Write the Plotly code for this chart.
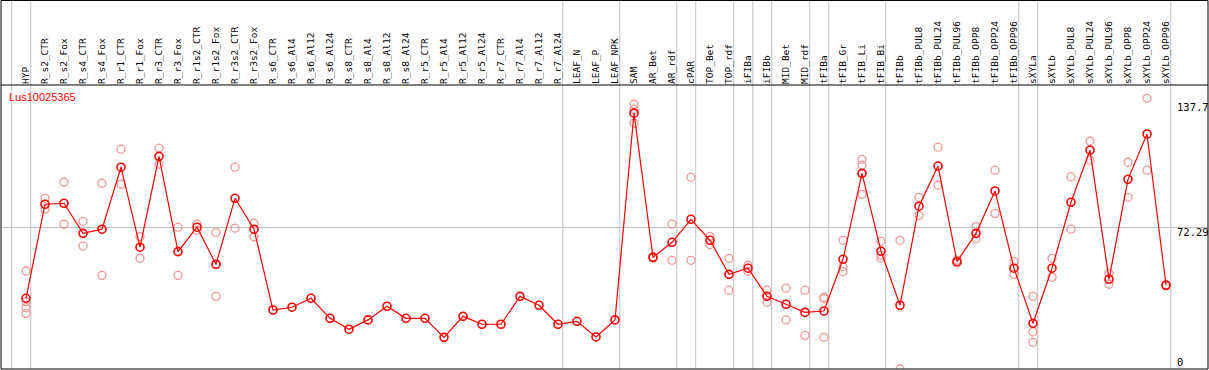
import plotly.graph_objects as go

categories = ["HYP", "R_s2_CTR", "R_s2_Fox", "R_s4_CTR", "R_s4_Fox", "R_r1_CTR", "R_r1_Fox",
              "R_r3_CTR", "R_r3_Fox", "R_r1s2_CTR", "R_r1s2_Fox", "R_r3s2_CTR", "R_r3s2_Fox",
              "R_s6_CTR", "R_s6_Al4", "R_s6_Al12", "R_s6_Al24", "R_s8_CTR", "R_s8_Al4", "R_s8_Al12",
              "R_s8_Al24", "R_r5_CTR", "R_r5_Al4", "R_r5_Al12", "R_r5_Al24", "R_r7_CTR", "R_r7_Al4",
              "R_r7_Al12", "R_r7_Al24", "LEAF_N", "LEAF_P", "LEAF_NPK", "SAM", "AR_Bet", "AR_rdf",
              "cPAR", "TOP_Bet", "TOP_rdf", "iFIBa", "iFIBb", "MID_Bet", "MID_rdf", "tFIBa",
              "tFIB_Gr", "tFIB_Li", "tFIB_Bi", "tFIBb", "tFIBb_PUL8", "tFIBb_PUL24", "tFIBb_PUL96",
              "tFIBb_OPP8", "tFIBb_OPP24", "tFIBb_OPP96", "sXYLa", "sXYLb", "sXYLb_PUL8",
              "sXYLb_PUL24", "sXYLb_PUL96", "sXYLb_OPP8", "sXYLb_OPP24", "sXYLb_OPP96"]

means = [36.7, 84.2, 84.7, 69.5, 71.6, 102.9, 62.5, 108.4, 60.3, 72.6, 53.9, 87.2, 71.6,
         30.8, 32.2, 36.7, 26.6, 21.1, 25.8, 32.7, 26.6, 26.6, 17.0, 27.6, 23.6, 23.6, 37.7,
         33.2, 23.6, 25.1, 17.2, 25.8, 130.2, 57.4, 65.0, 76.6, 66.0, 48.8, 51.9, 37.7, 33.7,
         29.6, 30.3, 56.4, 99.8, 60.5, 33.2, 83.2, 103.5, 55.2, 69.5, 90.9, 51.9, 24.1, 51.9,
         85.2, 111.5, 46.3, 96.8, 119.7, 43.3]

replicates = [
    [50.5, 35.0, 32.0, 29.1], [87.2, 81.7], [95.3, 74.1], [75.6, 63.1], [94.8, 48.3],
    [112.0, 94.3], [67.8, 56.9], [112.5, 104.4], [72.6, 48.3], [74.2, 71.0], [69.9, 37.7],
    [102.9, 72.1], [74.6, 67.8],
    [], [], [], [], [], [], [], [], [], [], [], [], [], [], [], [], [], [], [],
    [134.7, 132.2, 125.1], [57.8, 57.0], [74.2, 55.9], [97.8, 55.9], [68.0, 63.8],
    [56.9, 40.8], [53.4, 50.4], [40.8, 34.7], [41.8, 25.8], [40.8, 18.0], [37.3, 36.5, 17.0],
    [66.0, 52.7, 50.2], [106.9, 103.9, 89.2], [65.5, 58.4, 56.9], [66.0, 1.0], [87.7, 78.6],
    [113.0, 93.8], [56.0, 54.5], [72.9, 66.8], [101.4, 79.6], [55.4, 48.8],
    [37.7, 19.8, 14.5], [56.9, 47.3], [98.1, 71.6], [116.0, 106.4], [49.3, 43.8],
    [105.4, 87.7], [137.7, 101.4], [43.6, 43.0],
]

# group boundaries (index of last category in each group; -1 = before first)
group_ends = [-1, 0, 28, 31, 34, 35, 37, 38, 39, 41, 42, 45, 52, 53, 60]

axis_labels = ["137.7", "72.29", "0"]

title_text = "Lus10025365"

xs = list(range(len(categories)))
rep_x, rep_y = [], []
for i, reps in enumerate(replicates):
    for v in reps:
        rep_x.append(i)
        rep_y.append(v)

fig = go.Figure()
fig.add_trace(go.Scatter(
    x=rep_x, y=rep_y, mode="markers",
    marker=dict(symbol="circle-open", size=8, color="rgb(240,150,150)",
                line=dict(width=1.3, color="rgb(240,150,150)")),
    hoverinfo="y", showlegend=False))
fig.add_trace(go.Scatter(
    x=xs, y=means, mode="lines+markers",
    line=dict(color="red", width=1.2),
    marker=dict(symbol="circle-open", size=8, color="red",
                line=dict(width=1.6, color="red")),
    showlegend=False))

ytop_paper = 1 + 84.5 / 284
shapes = []
for g in group_ends:
    shapes.append(dict(type="line", xref="x", yref="paper", x0=g + 0.25, x1=g + 0.25,
                       y0=0, y1=ytop_paper, line=dict(color="#c0c0c0", width=1), layer="below"))
shapes.append(dict(type="rect", xref="paper", yref="paper", x0=0, x1=1, y0=0, y1=ytop_paper,
                   line=dict(color="black", width=1)))
shapes.append(dict(type="line", xref="paper", yref="paper", x0=0, x1=1, y0=1, y1=1,
                   line=dict(color="black", width=1)))

annotations = [dict(text=title_text, xref="paper", yref="paper", x=6 / 1207, y=1 - 12 / 284,
                    xanchor="left", yanchor="middle", showarrow=False,
                    font=dict(family="Liberation Sans", size=11, color="red"))]
label_pos = [(369 - 106.7) / 284, (369 - 232.3) / 284, (369 - 362) / 284]
for lab, yp in zip(axis_labels, label_pos):
    annotations.append(dict(text=lab, xref="x", yref="paper", x=60.45, y=yp, xanchor="left",
                            yanchor="middle", showarrow=False,
                            font=dict(family="DejaVu Sans Mono", size=10.5, color="black")))

px_per_unit = (371 - 98.3) / 137.7
y_lo = (371 - 369) / px_per_unit
y_hi = (371 - 85) / px_per_unit

fig.update_layout(
    width=1209, height=370,
    margin=dict(l=1, r=1, t=85, b=1, pad=0),
    paper_bgcolor="white", plot_bgcolor="white",
    shapes=shapes, annotations=annotations,
    xaxis=dict(range=[(1 - 26) / 19, (1208 - 26) / 19], side="top",
               tickmode="array", tickvals=xs, ticktext=categories, tickangle=-90,
               tickfont=dict(family="DejaVu Sans Mono", size=9.5, color="black"),
               showgrid=False, zeroline=False, ticks="", showline=False),
    yaxis=dict(range=[y_lo, y_hi], tickmode="array", tickvals=[72.29],
               showticklabels=False, showgrid=True, gridcolor="#c0c0c0", gridwidth=1,
               zeroline=False, showline=False, ticks=""),
)

fig.write_html("out.html", config={"displayModeBar": False},
               post_script="document.body.style.margin='0px';document.body.style.overflow='hidden';")
